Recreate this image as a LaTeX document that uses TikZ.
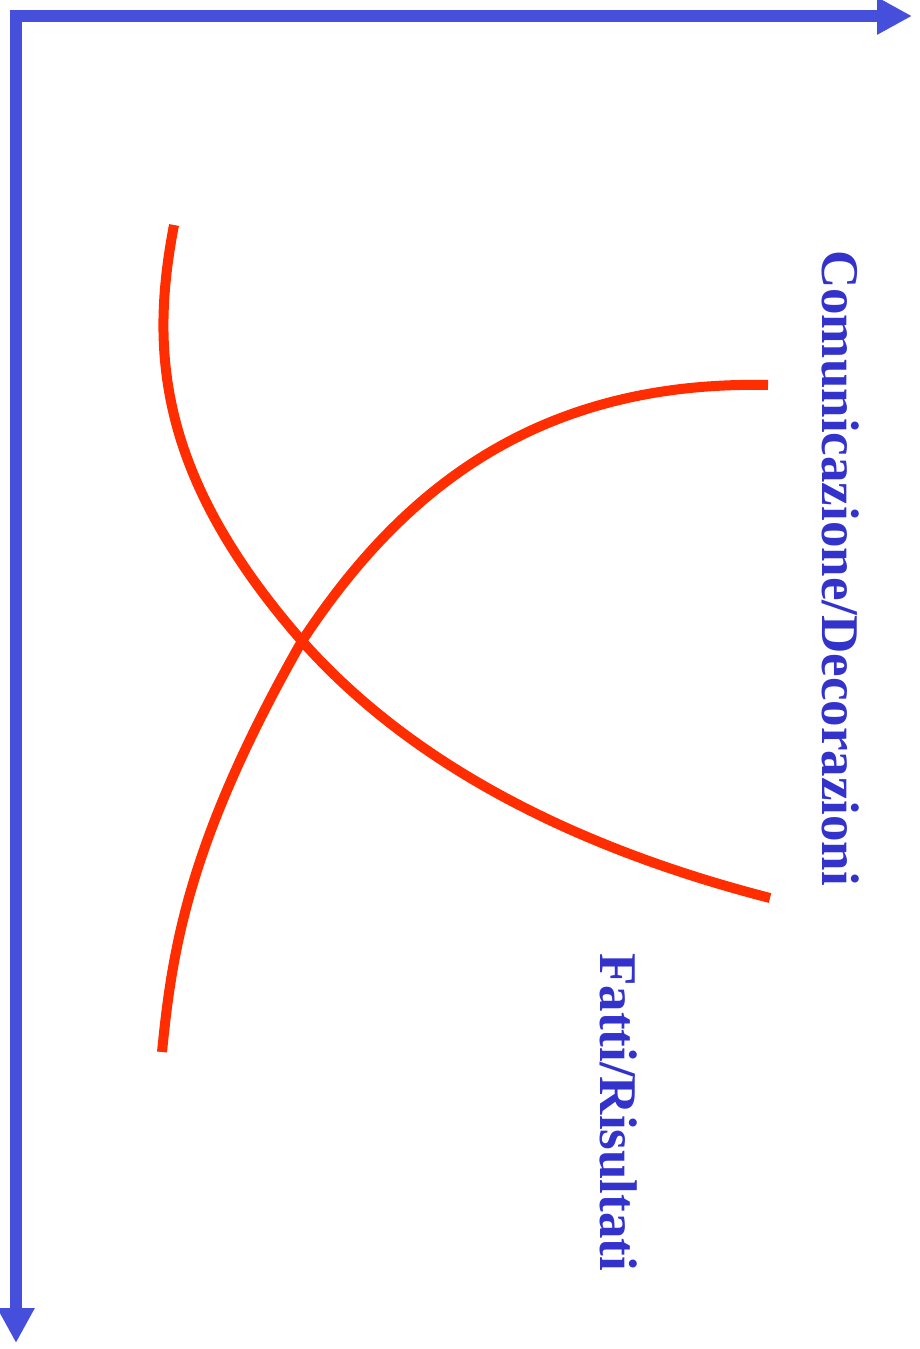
\documentclass[tikz,border=0pt]{standalone}
\usepackage{fontspec}
\setmainfont{Liberation Serif}
\usepackage{xcolor}
\usetikzlibrary{arrows.meta,positioning}

\definecolor{axisblue}{RGB}{70,78,220}
\definecolor{labelblue}{RGB}{51,51,204}
\definecolor{curvered}{RGB}{255,45,0}

\begin{document}
\begin{tikzpicture}[x=1pt, y=-1pt,
  axis/.style={axisblue, line width=12pt, line join=miter,
    {Triangle[length=35pt, width=35pt]}-{Triangle[length=35pt, width=35pt]}},
  curve/.style={curvered, line width=10pt},
  lbl/.style={labelblue, font=\fontsize{53}{60}\selectfont\bfseries,
    rotate=-90, anchor=base west, inner sep=0pt}]
  \useasboundingbox (0,0) rectangle (919,1349);
  % axes with a square corner at the top left
  \coordinate (origin) at (16,16);
  \coordinate (yend) at (16,1343);
  \coordinate (xend) at (912,16);
  \draw[axis] (yend) -- (origin) -- (xend);
  % the two crossing curves
  \coordinate (cross) at (302,641);
  \draw[curve] (174,225) .. controls (150,350) and (157,475) .. (cross)
    .. controls (421,775) and (595,853) .. (770,898);
  \draw[curve] (162,1052) .. controls (172,952) and (187,843) .. (cross)
    .. controls (395,500) and (528,380) .. (768,385);
  % labels read top to bottom
  \node[lbl] (comm) at (822,250) {Comunicazione/Decorazioni};
  \node[lbl] (fatti) at (600,953) {Fatti/Risultati};
\end{tikzpicture}
\end{document}
